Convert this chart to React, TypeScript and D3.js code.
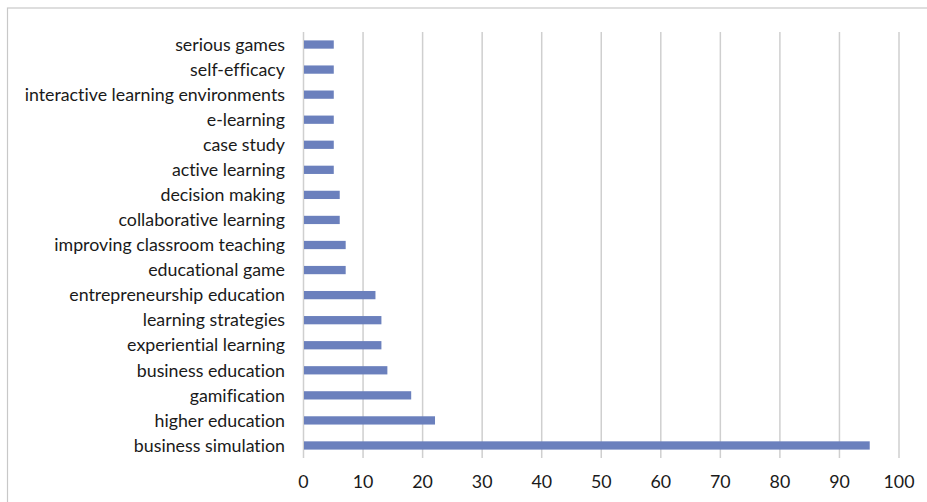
import React from "react";
import * as d3 from "d3";

const categories = [
  "serious games",
  "self-efficacy",
  "interactive learning environments",
  "e-learning",
  "case study",
  "active learning",
  "decision making",
  "collaborative learning",
  "improving classroom teaching",
  "educational game",
  "entrepreneurship education",
  "learning strategies",
  "experiential learning",
  "business education",
  "gamification",
  "higher education",
  "business simulation",
];
const values = [5, 5, 5, 5, 5, 5, 6, 6, 7, 7, 12, 13, 13, 14, 18, 22, 95];
const xTicks = [0, 10, 20, 30, 40, 50, 60, 70, 80, 90, 100];

const W = 927;
const H = 502;
const FONT = "Lato, sans-serif";

export default function App() {
  const x = d3.scaleLinear().domain([0, 100]).range([303.5, 899]);
  const y = d3.scaleBand<string>().domain(categories).range([32, 458]).paddingInner(0.67).paddingOuter(0.335);
  const textStyle = { fontVariantLigatures: "none" } as React.CSSProperties;
  return (
    <svg width={W} height={H} style={{ position: "absolute", left: 0, top: 0 }}>
      <rect x={0} y={0} width={W} height={H} fill="#fff" />
      <rect x={7.5} y={8} width={W + 10} height={H + 10} fill="none" stroke="#c8c8c8" strokeWidth={1.2} />
      {xTicks.map((t) => (
        <line key={t} x1={x(t)} x2={x(t)} y1={32} y2={458} stroke="#cfcfcf" strokeWidth={1.5} />
      ))}
      {categories.map((c, i) => (
        <rect key={c} x={x(0) + 0.5} y={y(c)!} width={x(values[i]) - x(0)} height={y.bandwidth()} fill="#6b80bd" />
      ))}
      {categories.map((c) => (
        <text key={c} x={285} y={y(c)! + y.bandwidth() / 2} dy="0.35em" textAnchor="end" fontFamily={FONT} fontSize={17.8} fill="#1a1a1a" style={textStyle}>
          {c}
        </text>
      ))}
      {xTicks.map((t) => (
        <text key={t} x={x(t)} y={482} dy="0.35em" textAnchor="middle" fontFamily={FONT} fontSize={17.8} fill="#1a1a1a" style={textStyle}>
          {t}
        </text>
      ))}
    </svg>
  );
}
